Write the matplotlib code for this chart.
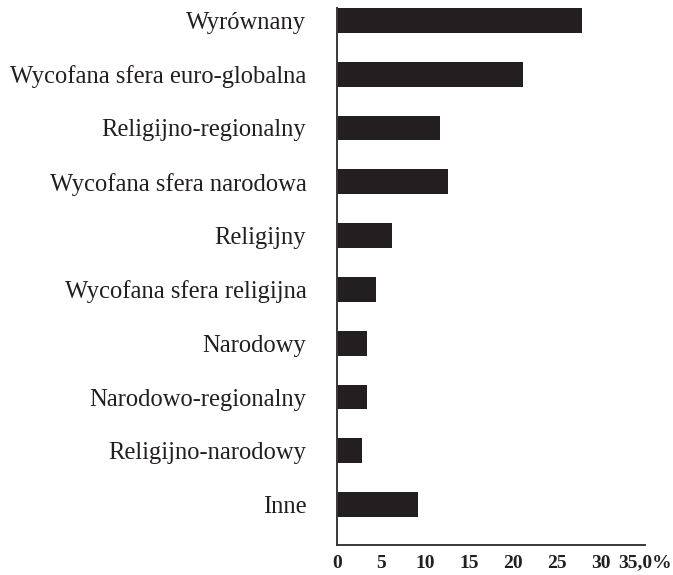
import matplotlib.pyplot as plt

# dane (procenty)
kategorie = ["Wyrównany", "Wycofana sfera euro-globalna", "Religijno-regionalny",
             "Wycofana sfera narodowa", "Religijny", "Wycofana sfera religijna",
             "Narodowy", "Narodowo-regionalny", "Religijno-narodowy", "Inne"]
wartosci = [27.8, 21.1, 11.7, 12.6, 6.2, 4.4, 3.4, 3.4, 2.9, 9.2]
ticki = [0, 5, 10, 15, 20, 25, 30, 35]
tick_etykiety = ["0", "5", "10", "15", "20", "25", "30", "35,0%"]

kolor = "#231f20"

fig = plt.figure(figsize=(6.73, 5.75), dpi=100)
ax = fig.add_axes([0.5007, 0.0522, 0.4577, 0.9339])

poz = list(range(len(kategorie)))
ax.barh(poz, wartosci, height=0.46, color=kolor)

ax.set_ylim(9.75, -0.23)
ax.set_xlim(0, 35)
ax.set_yticks(poz)
ax.set_yticklabels(kategorie, fontfamily="Liberation Serif", fontsize=17.7, color=kolor)
ax.set_xticks(ticks=ticki)
ax.set_xticklabels(tick_etykiety, fontfamily="Liberation Serif", fontsize=14,
                   fontweight="bold", color=kolor)
ax.tick_params(axis="y", length=0, pad=22)
ax.tick_params(axis="x", length=0, pad=7)

for s in ["top", "right"]:
    ax.spines[s].set_visible(False)
for s in ["left", "bottom"]:
    ax.spines[s].set_color("#3a3738")
    ax.spines[s].set_linewidth(1.4)

plt.savefig("out.png", dpi=100)
